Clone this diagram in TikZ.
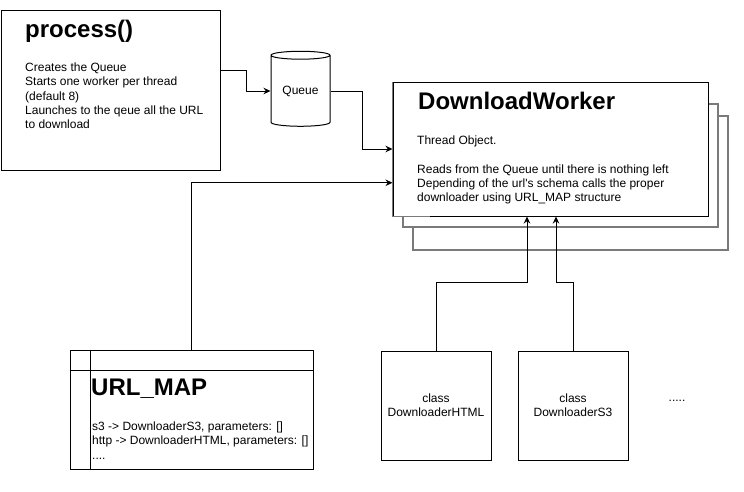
\documentclass[tikz,border=0pt]{standalone}
\usepackage{fontspec}
\setmainfont{Liberation Sans}
\usepackage{tikz}
\usetikzlibrary{arrows.meta,calc,positioning,shapes.geometric}
\definecolor{tinta}{HTML}{000000}
\definecolor{pila}{HTML}{7A7A7A}
\tikzset{
  caja/.style={rectangle,draw=tinta,fill=white,line width=1pt,inner sep=0pt},
  cajapila/.style={rectangle,draw=pila,fill=white,line width=1.3pt,inner sep=0pt},
  cilindro/.style={cylinder,shape border rotate=90,aspect=0.22,draw=tinta,fill=white,line width=1pt,minimum width=59pt,minimum height=75pt,inner sep=0pt,font=\fontsize{12}{14}\selectfont},
  titulo/.style={font=\fontsize{24}{28}\selectfont\bfseries,inner sep=0pt,anchor=base west},
  texto/.style={font=\fontsize{12}{14.3}\selectfont,inner sep=0pt,align=left,anchor=north west},
  clase/.style={font=\fontsize{12}{14.3}\selectfont,align=center},
  flecha/.style={draw=tinta,line width=1pt,-{Stealth[length=7pt,width=6.5pt]}},
}
\begin{document}
\begin{tikzpicture}[x=1pt,y=-1pt]
\useasboundingbox (0,0) rectangle (744,491);
% cajas
\node[caja,minimum width=219pt,minimum height=160pt] (proc) at (110.5,90) {};
\node[cilindro] (queue) at (300.5,91) {Queue};
\node[cajapila,minimum width=315pt,minimum height=134pt] (worker3) at (570.5,183) {};
\node[cajapila,minimum width=315pt,minimum height=123pt] (worker2) at (560.5,165.5) {};
\node[caja,minimum width=315pt,minimum height=134pt] (worker) at (550.5,149) {};
\draw[draw=pila,line width=1.3pt] (worker.north west) -- (worker.south west) -- ($(worker.south west)!0.12!(worker.south east)$);
\node[caja,minimum width=243pt,minimum height=119pt] (urlmap) at (191.5,409.5) {};
\node[caja,minimum width=110pt,minimum height=109pt] (html) at (436,405.5) {};
\node[caja,minimum width=110pt,minimum height=109pt] (s3) at (573,405.5) {};
\draw[line width=1pt] ($(urlmap.north west)+(21,0)$) -- ($(urlmap.south west)+(21,0)$);
\draw[line width=1pt] ($(urlmap.north west)+(0,21)$) -- ($(urlmap.north east)+(0,21)$);
% textos
\node[titulo] (proctit) at (25,37) {process()};
\node[texto] (proctxt) at (25,62.5) {Creates the Queue\\Starts one worker per thread\\(default 8)\\Launches to the qeue all the URL\\to download};
\node[titulo] (workertit) at (418,109) {DownloadWorker};
\node[texto] (workertxt) at (417,135.5) {Thread Object.\\[14.3pt]Reads from the Queue until there is nothing left\\Depending of the url\textquotesingle s schema calls the proper\\downloader using URL\_MAP structure};
\node[titulo] (urltit) at (91,395) {URL\_MAP};
\node[texto] (urltxt) at (92,421.5) {s3 -> DownloaderS3, parameters: []\\http -> DownloaderHTML, parameters: []\\....};
\node[clase] at (html) {class\\DownloaderHTML};
\node[clase] at (s3) {class\\DownloaderS3};
\node[clase] (dots) at (677,401) {.....};
% flechas
\draw[flecha] ($(proc.north east)!0.38!(proc.south east)$) -- ++(26,0) |- (queue.west);
\draw[flecha] (queue.east) -- ++(32,0) |- (worker.west);
\draw[flecha] (urlmap.north) |- ($(worker.south west)!0.25!(worker.north west)$);
\draw[flecha] (html.north) -- ++(0,-68) -| ($(worker.south)+(-23.5,0)$);
\draw[flecha] (s3.north) -- ++(0,-68) -| ($(worker.south)+(5.5,0)$);
\end{tikzpicture}
\end{document}
